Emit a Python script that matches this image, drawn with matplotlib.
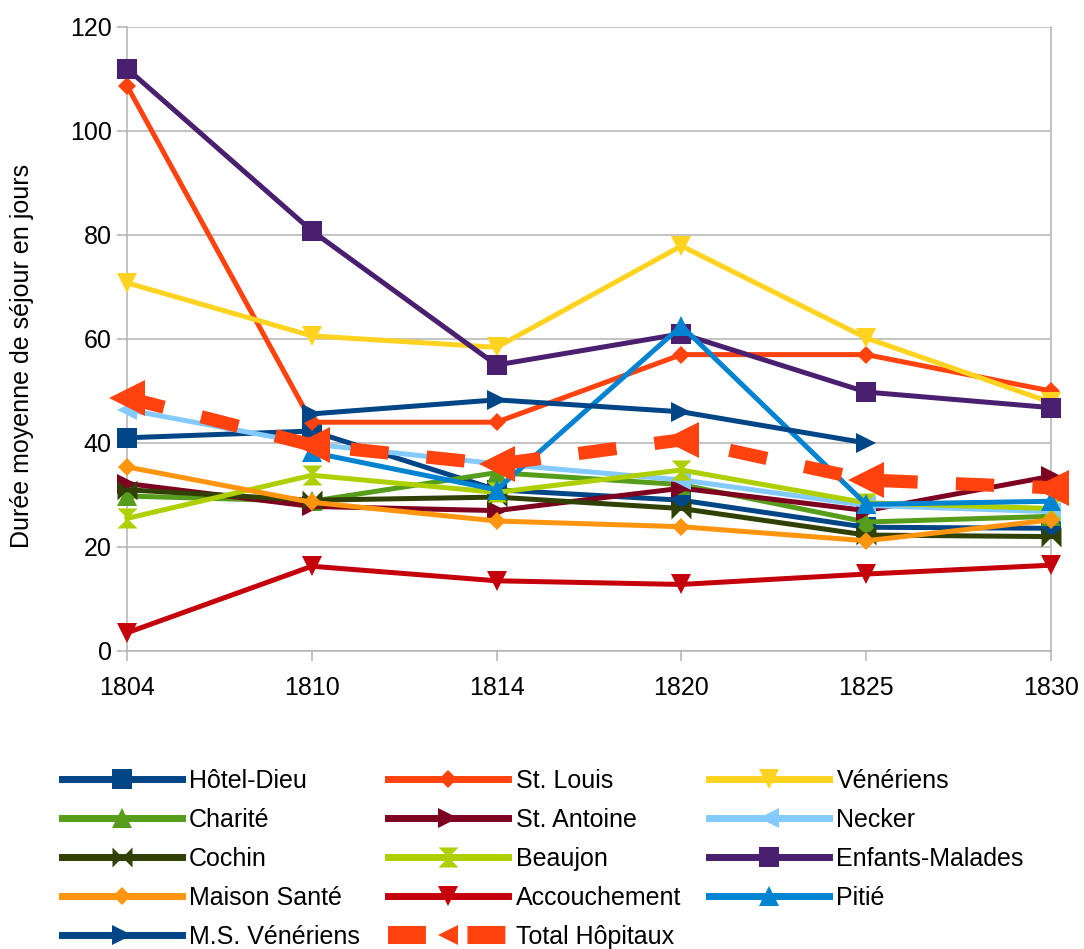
import matplotlib
matplotlib.use("Agg")
import matplotlib.pyplot as plt
from matplotlib.lines import Line2D
import numpy as np

plt.rcParams['font.family'] = ['Liberation Sans', 'DejaVu Sans']

years = ["1804", "1810", "1814", "1820", "1825", "1830"]
nan = np.nan

hotel_dieu     = [41.0, 42.3, 31.0, 29.0, 23.8, 23.6]
st_louis       = [108.7, 44.0, 44.0, 57.0, 57.0, 50.0]
veneriens      = [70.8, 60.6, 58.4, 77.9, 60.2, 47.8]
charite        = [29.8, 28.8, 34.3, 32.0, 24.8, 25.9]
st_antoine     = [32.2, 27.8, 27.0, 31.3, 27.0, 33.6]
necker         = [46.4, 39.8, 36.0, 32.9, 28.0, 26.8]
cochin         = [31.0, 29.0, 29.6, 27.4, 22.3, 22.0]
beaujon        = [25.5, 33.8, 30.5, 34.8, 28.5, 27.4]
enfants        = [112.0, 80.8, 55.0, 61.0, 49.8, 46.8]
maison_sante   = [35.4, 28.6, 25.0, 23.9, 21.2, 25.2]
accouchement   = [3.5, 16.3, 13.5, 12.8, 14.8, 16.5]
pitie          = [nan, 38.2, 31.0, 62.5, 28.2, 28.8]
ms_veneriens   = [nan, 45.6, 48.3, 46.0, 40.0, nan]
total          = [48.7, 39.6, 35.9, 40.6, 32.9, 31.4]

labels = ["Hôtel-Dieu", "St. Louis", "Vénériens", "Charité", "St. Antoine",
          "Necker", "Cochin", "Beaujon", "Enfants-Malades", "Maison Santé",
          "Accouchement", "Pitié", "M.S. Vénériens", "Total Hôpitaux"]
series = [hotel_dieu, st_louis, veneriens, charite, st_antoine, necker,
          cochin, beaujon, enfants, maison_sante, accouchement, pitie,
          ms_veneriens, total]
colors = ["#004586", "#ff420e", "#ffd320", "#579d1c", "#7e0021", "#83caff",
          "#314004", "#aecf00", "#4b1f6f", "#ff950e", "#c5000b", "#0084d1",
          "#004586", "#ff420e"]

bowtie = [(-1, -1), (-1, 1), (1, -1), (1, 1), (-1, -1)]
hourglass = [(-1, 1), (1, 1), (-1, -1), (1, -1), (-1, 1)]
markers = ["s", "D", "v", "^", ">", "<", bowtie, hourglass, "s", "D", "v", "^", ">", "<"]
msizes = [14.4, 8.8, 14, 14, 14, 14, 14.4, 14.4, 14.4, 8.8, 14, 14, 14, 26.5]

fig = plt.figure(figsize=(10.84, 9.49), dpi=100)
ax = fig.add_axes([127/1084, 1-651/949, (1051-127)/1084, (651-27)/949])

x = np.arange(len(years))
for i, (vals, lab, col, mk, ms) in enumerate(zip(series, labels, colors, markers, msizes)):
    if lab == "Total Hôpitaux":
        ax.plot(x, vals, color=col, lw=9.5, dashes=(2.9, 2.9), dash_capstyle='butt',
                marker=mk, markersize=ms, markeredgewidth=0, clip_on=False, zorder=3+i)
    else:
        ax.plot(x, vals, color=col, lw=3.6, marker=mk, markersize=ms,
                markeredgewidth=0, clip_on=False, zorder=3+i, solid_joinstyle='miter')

ax.set_xlim(0, len(years)-1)
ax.set_ylim(0, 120)
ax.set_yticks(np.arange(0, 121, 20))
ax.set_xticks(x)
ax.set_xticklabels(years)
ax.grid(axis='y', color='#b3b3b3', lw=1.1)
ax.set_axisbelow(True)
ax.spines['top'].set_visible(False)
for s in ['left', 'right', 'bottom']:
    ax.spines[s].set_color('#b3b3b3')
    ax.spines[s].set_linewidth(1.1)
ax.tick_params(axis='both', colors='#b3b3b3', labelcolor='black', labelsize=18,
               length=7, width=1.1)
ax.tick_params(axis='y', pad=4)
ax.tick_params(axis='x', pad=11)

fig.text(22/1084, 1-356/949, "Durée moyenne de séjour en jours", rotation=90,
         ha='center', va='center', fontsize=18)

handles = []
for lab, col, mk, ms in zip(labels, colors, markers, msizes):
    if lab == "Total Hôpitaux":
        h = Line2D([], [], color=col, lw=13, dashes=(2.1, 2.3), dash_capstyle='butt',
                   marker=mk, markersize=15, markeredgewidth=0)
    else:
        h = Line2D([], [], color=col, lw=5, marker=mk, markersize=ms, markeredgewidth=0)
    handles.append(h)
order = [0, 3, 6, 9, 12, 1, 4, 7, 10, 13, 2, 5, 8, 11]
fig.legend([handles[i] for i in order], [labels[i] for i in order],
           loc='upper left', bbox_to_anchor=(62/1084, 1-769/949), ncol=3,
           frameon=False, fontsize=18, handlelength=4.8, handletextpad=0.29,
           columnspacing=1.13, labelspacing=0.6, borderpad=0, borderaxespad=0)

fig.savefig("out.png", dpi=100)
